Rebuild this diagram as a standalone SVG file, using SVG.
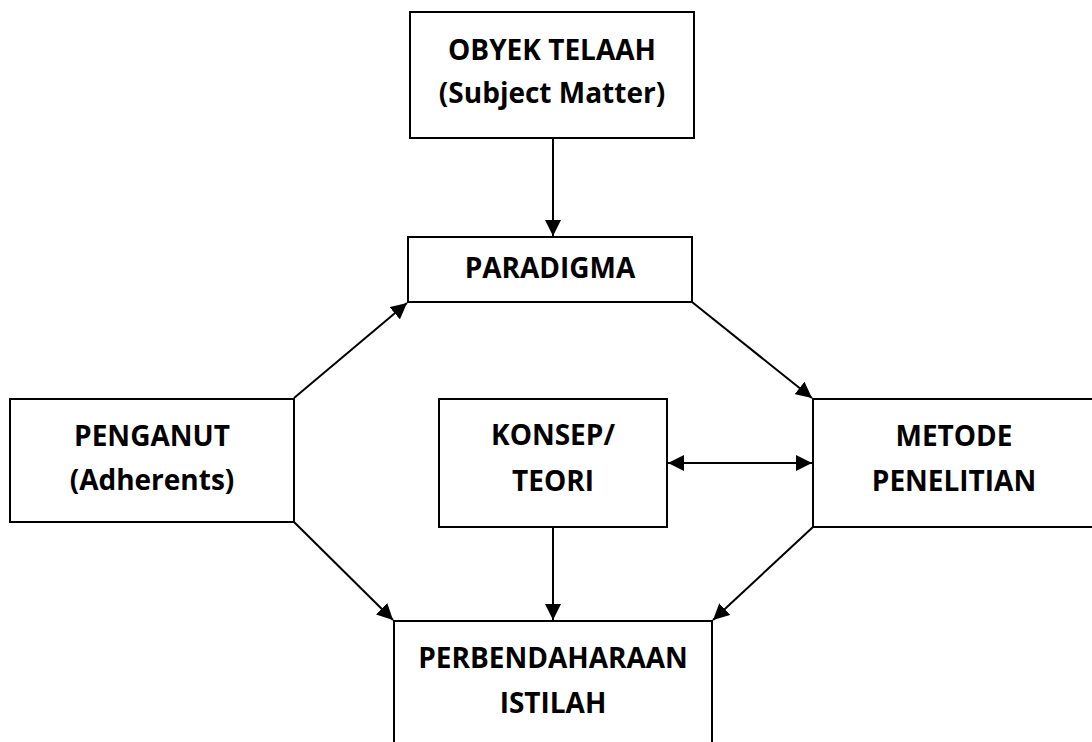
<svg xmlns="http://www.w3.org/2000/svg" width="1092" height="742" viewBox="0 0 1092 742">
<style>
.box{fill:#fff;stroke:#000;stroke-width:2}
.t{font-family:"Open Sans","Noto Sans",sans-serif;font-weight:bold;font-size:28px;fill:#000;text-anchor:middle}
.c{stroke:#000;stroke-width:2;fill:none}
</style>
<defs>
<marker id="ah" viewBox="0 0 10 10" refX="10" refY="5" markerWidth="8" markerHeight="8" markerUnits="strokeWidth" orient="auto-start-reverse">
<path d="M0,0 L10,5 L0,10 Z" fill="#000"/>
</marker>
</defs>
<rect width="1092" height="742" fill="#fff"/>
<g id="connectors">
<line class="c" x1="553" y1="138" x2="553" y2="236" marker-end="url(#ah)"/>
<line class="c" x1="294" y1="398" x2="407" y2="303" marker-end="url(#ah)"/>
<line class="c" x1="692" y1="302" x2="812" y2="398" marker-end="url(#ah)"/>
<line class="c" x1="668" y1="463" x2="812" y2="463" marker-start="url(#ah)" marker-end="url(#ah)"/>
<line class="c" x1="553" y1="527" x2="553" y2="620" marker-end="url(#ah)"/>
<line class="c" x1="294" y1="522" x2="393" y2="620" marker-end="url(#ah)"/>
<line class="c" x1="813" y1="527" x2="713" y2="620" marker-end="url(#ah)"/>
</g>
<g id="obyek">
<rect class="box" x="410" y="12" width="284" height="126"/>
<text class="t" x="552" y="60">OBYEK TELAAH</text>
<text class="t" x="552" y="103">(Subject Matter)</text>
</g>
<g id="paradigma">
<rect class="box" x="408" y="237" width="284" height="65"/>
<text class="t" x="550" y="278">PARADIGMA</text>
</g>
<g id="penganut">
<rect class="box" x="10" y="399" width="284" height="123"/>
<text class="t" x="152" y="446">PENGANUT</text>
<text class="t" x="152" y="490">(Adherents)</text>
</g>
<g id="konsep">
<rect class="box" x="439" y="399" width="228" height="128"/>
<text class="t" x="553" y="445">KONSEP/</text>
<text class="t" x="553" y="491">TEORI</text>
</g>
<g id="metode">
<rect class="box" x="813" y="399" width="282" height="128"/>
<text class="t" x="954" y="446">METODE</text>
<text class="t" x="954" y="491">PENELITIAN</text>
</g>
<g id="perbendaharaan">
<rect class="box" x="394" y="621" width="318" height="140"/>
<text class="t" x="553" y="668">PERBENDAHARAAN</text>
<text class="t" x="553" y="713">ISTILAH</text>
</g>
</svg>
